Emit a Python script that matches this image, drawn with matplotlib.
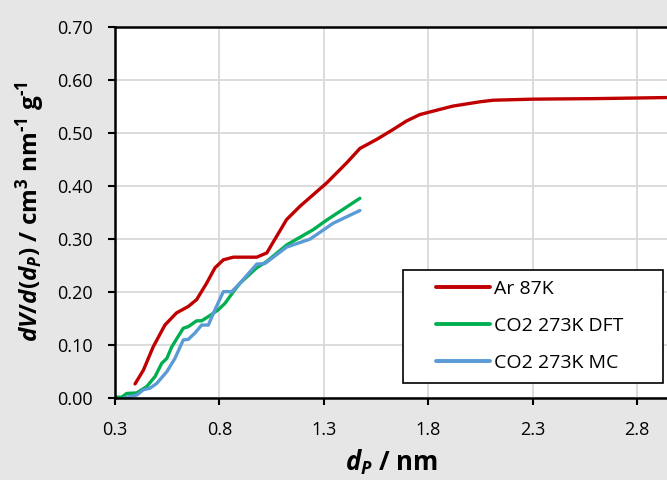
import matplotlib
matplotlib.use("Agg")
import matplotlib.pyplot as plt
from matplotlib.patches import Rectangle

plt.rcParams['font.family'] = ['Open Sans', 'DejaVu Sans']
plt.rcParams['mathtext.fontset'] = 'custom'
plt.rcParams['mathtext.rm'] = 'Open Sans:bold'
plt.rcParams['mathtext.it'] = 'Open Sans:bold:italic'
plt.rcParams['mathtext.bf'] = 'Open Sans:bold'

# ---- data ----
ar_x = [0.396, 0.436, 0.483, 0.539, 0.595, 0.651, 0.691, 0.739, 0.779, 0.819, 0.867,
        0.979, 1.027, 1.122, 1.186, 1.250, 1.314, 1.410, 1.473, 1.553, 1.633, 1.697,
        1.761, 1.889, 1.920, 2.048, 2.112, 2.303, 2.60, 2.942]
ar_y = [0.026, 0.052, 0.096, 0.137, 0.160, 0.172, 0.185, 0.216, 0.245, 0.260, 0.265,
        0.265, 0.273, 0.336, 0.361, 0.383, 0.405, 0.443, 0.470, 0.487, 0.506, 0.522,
        0.534, 0.547, 0.550, 0.558, 0.561, 0.563, 0.564, 0.566]

dft_x = [0.300, 0.332, 0.356, 0.404, 0.452, 0.492, 0.524, 0.548, 0.572, 0.627, 0.651,
         0.691, 0.715, 0.755, 0.795, 0.827, 0.867, 0.899, 0.979, 1.027, 1.122, 1.250,
         1.314, 1.473]
dft_y = [0.001, 0.001, 0.008, 0.009, 0.021, 0.040, 0.065, 0.074, 0.096, 0.131, 0.134,
         0.145, 0.145, 0.155, 0.166, 0.178, 0.200, 0.216, 0.245, 0.257, 0.288, 0.317,
         0.335, 0.376]

mc_x = [0.348, 0.404, 0.436, 0.468, 0.500, 0.548, 0.587, 0.627, 0.651, 0.683, 0.715,
        0.747, 0.779, 0.819, 0.859, 0.899, 0.979, 1.018, 1.122, 1.234, 1.345, 1.473]
mc_y = [0.000, 0.005, 0.015, 0.018, 0.027, 0.049, 0.074, 0.109, 0.110, 0.122, 0.137,
        0.137, 0.166, 0.200, 0.200, 0.216, 0.252, 0.253, 0.284, 0.299, 0.329, 0.353]

labels = ["Ar 87K", "CO2 273K DFT", "CO2 273K MC"]
colors = ["#C00000", "#00B050", "#5B9BD5"]
x_ticks = [0.3, 0.8, 1.3, 1.8, 2.3, 2.8]
y_ticks = [0.0, 0.1, 0.2, 0.3, 0.4, 0.5, 0.6, 0.7]

W, H = 667, 480
AX_L, AX_R, AX_B, AX_T = 115, 667, 397.7, 26.5
fig = plt.figure(figsize=(W/100, H/100), dpi=100, facecolor="#E6E6E6")
ax = fig.add_axes([AX_L/W, 1-AX_B/H, (AX_R-AX_L)/W, (AX_B-AX_T)/H])
ax.set_facecolor("white")

for xs, ys, lab, c in zip([ar_x, dft_x, mc_x], [ar_y, dft_y, mc_y], labels, colors):
    ax.plot(xs, ys, color=c, lw=2.4, label=lab, solid_joinstyle="round", solid_capstyle="round")

ax.set_xlim(0.3, 2.944)
ax.set_ylim(0, 0.70)
ax.set_xticks(x_ticks)
ax.set_xticklabels([f"{v:.1f}" for v in x_ticks])
ax.set_yticks(y_ticks)
ax.set_yticklabels([f"{v:.2f}" for v in y_ticks])
ax.grid(True, color="#D9D9D9", lw=1.3)
ax.set_axisbelow(True)
for s in ["left", "bottom", "top"]:
    ax.spines[s].set_color("black")
    ax.spines[s].set_linewidth(1.8)
ax.spines["right"].set_visible(False)
ax.tick_params(axis="both", direction="out", length=5, width=1.5, colors="black",
               labelsize=13)
ax.tick_params(axis="y", pad=11)
ax.tick_params(axis="x", pad=12)

ax.set_xlabel(r"$d_P$ / nm", fontsize=18.5, fontweight="bold", labelpad=6)
ax.set_ylabel(r"$dV/d(d_P)$ / cm$^3$ nm$^{\text{-1}}$ g$^{\text{-1}}$", fontsize=17.5,
              fontweight="bold", labelpad=7)


def axx(px):
    return (px - AX_L) / (AX_R - AX_L)


def axy(py):
    return (AX_B - py) / (AX_B - AX_T)


ax.add_patch(Rectangle((axx(403), axy(382.5)), axx(663) - axx(403), axy(270) - axy(382.5),
                       transform=ax.transAxes, facecolor="white", edgecolor="black",
                       lw=1.2, zorder=5))
leg = ax.legend(loc="center left", bbox_to_anchor=(axx(436), axy(326)),
                fontsize=14, frameon=False, handlelength=2.78, handletextpad=0.2,
                borderpad=0, labelspacing=0.98, borderaxespad=0)
leg.set_zorder(6)
for line in leg.get_lines():
    line.set_linewidth(2.8)

fig.savefig("out.png", dpi=100, facecolor=fig.get_facecolor())
